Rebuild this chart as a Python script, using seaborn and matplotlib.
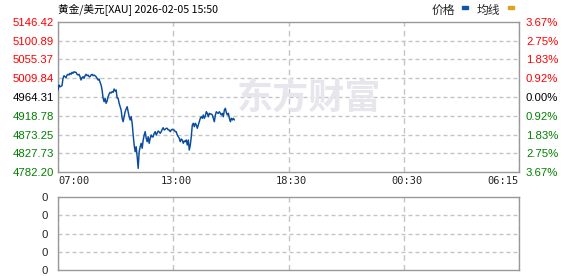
import numpy as np
import pandas as pd
import matplotlib
matplotlib.use("Agg")
import matplotlib.pyplot as plt
import matplotlib.transforms as mtransforms
from matplotlib.collections import LineCollection
import seaborn as sns

# ---------------- data ----------------
title_text = "黄金/美元[XAU] 2026-02-05 15:50"
legend_names = ["价格", "均线"]
price_ticks = [4782.20, 4827.73, 4873.25, 4918.78, 4964.31, 5009.84, 5055.37, 5100.89, 5146.42]
price_labels = ["4782.20", "4827.73", "4873.25", "4918.78", "4964.31",
                "5009.84", "5055.37", "5100.89", "5146.42"]
pct_labels = ["3.67%", "2.75%", "1.83%", "0.92%", "0.00%", "0.92%", "1.83%", "2.75%", "3.67%"]
time_labels = ["07:00", "13:00", "18:30", "00:30", "06:15"]
session_minutes = 1380
step_minutes = 3
volume_labels = ["0", "0", "0", "0", "0"]

prices = [
    4981.3, 4993.4, 4989.0, 4990.5, 4991.8, 5009.7, 5016.0, 5013.6, 5011.2, 5017.7,
    5019.4, 5017.7, 5021.9, 5019.4, 5024.3, 5021.9, 5025.7, 5024.3, 5024.3, 5019.4,
    5017.7, 5019.4, 5013.6, 5005.6, 5011.2, 5013.6, 5009.7, 5016.0, 5019.4, 5016.0,
    5017.7, 5013.6, 5013.6, 5017.7, 5019.4, 5016.0, 5017.7, 5016.0, 5013.6, 5009.7,
    5005.6, 5008.0, 5000.0, 4993.4, 4981.3, 4961.2, 4952.9, 4961.2, 4949.0, 4954.6,
    4965.0, 4971.6, 4975.7, 4974.0, 4977.2, 4975.7, 4983.7, 4978.9, 4981.3, 4961.9,
    4961.2, 4949.0, 4940.8, 4932.7, 4912.6, 4904.3, 4916.5, 4928.6, 4935.2, 4940.8,
    4928.6, 4916.5, 4908.5, 4916.5, 4900.5, 4872.0, 4847.8, 4831.5, 4843.6, 4819.4,
    4791.0, 4831.5, 4843.6, 4851.9, 4839.8, 4859.9, 4872.0, 4880.1, 4864.0, 4855.8,
    4867.9, 4851.9, 4864.0, 4872.0, 4867.2, 4867.9, 4876.2, 4880.1, 4872.0, 4876.9,
    4881.8, 4879.3, 4876.2, 4880.1, 4885.9, 4889.8, 4884.2, 4885.9, 4888.3, 4888.3,
    4884.2, 4884.2, 4880.1, 4884.2, 4885.9, 4884.2, 4884.2, 4880.1, 4880.1, 4872.0,
    4867.9, 4864.0, 4855.8, 4862.3, 4859.9, 4851.9, 4857.5, 4855.8, 4859.9, 4847.8,
    4859.9, 4835.6, 4847.8, 4867.9, 4896.3, 4900.5, 4892.2, 4900.5, 4896.3, 4888.3,
    4896.3, 4904.3, 4912.6, 4916.5, 4912.6, 4920.6, 4912.6, 4918.2, 4928.6, 4924.7,
    4916.5, 4924.7, 4923.0, 4923.0, 4920.6, 4912.6, 4904.3, 4920.6, 4928.6, 4925.5,
    4924.7, 4928.6, 4924.7, 4920.6, 4924.7, 4916.5, 4932.7, 4936.9, 4926.2, 4920.6,
    4924.7, 4912.6, 4904.3, 4912.6, 4908.5, 4912.6, 4908.5,
]

df = pd.DataFrame({"minute": np.arange(len(prices)) * step_minutes, "price": prices})

# ---------------- style ----------------
sns.set_style("white")
plt.rcParams["font.family"] = ["Liberation Sans", "Noto Sans CJK SC", "DejaVu Sans"]

W, H = 578, 276
fig = plt.figure(figsize=(W / 100, H / 100), dpi=100)

def rect(l, t, r, b):
    return [l / W, 1 - b / H, (r - l) / W, (b - t) / H]

RED, GREEN, BLACK = "#ff0000", "#008000", "#000000"
SPINE = "#999999"
GRID = "#c4c4c4"
LINE = "#0a4c9c"
DASH = (0, (4, 3))
PLOT_W = 519 - 58

ax = fig.add_axes(rect(58, 22, 519, 172))
ax2 = fig.add_axes(rect(58, 197, 519, 270))

# watermark
fig.text(309 / W, 1 - 98 / H, "东方财富", fontsize=26, fontweight="bold",
         family=["Noto Sans CJK SC"], color="#e6e6ec", ha="center", va="center", zorder=0)

ax.patch.set_alpha(0)
sns.lineplot(data=df, x="minute", y="price", ax=ax, color=LINE, linewidth=1.05, zorder=3)


def dashed_hgrid(a, levels):
    starts = np.arange(0, 1, 7 / PLOT_W)
    segs = []
    for lv in levels:
        for s in starts:
            segs.append([(s, lv), (min(s + 4 / PLOT_W, 1), lv)])
    lc = LineCollection(segs, colors=GRID, linewidths=1.0, transform=a.get_yaxis_transform(),
                        zorder=1)
    a.add_collection(lc, autolim=False)


xticks = np.linspace(0, session_minutes, len(time_labels))
for a in (ax, ax2):
    a.set_xlim(0, session_minutes)
    for s in a.spines.values():
        s.set_color(SPINE)
        s.set_linewidth(1.0)
    a.tick_params(length=0)
    a.set_xlabel("")
    a.set_ylabel("")
    a.set_axisbelow(True)
    a.grid(True, axis="x", color=GRID, linewidth=1.0, linestyle=DASH)

ax.set_ylim(price_ticks[0], price_ticks[-1])
ax.set_yticks(price_ticks)
ax.set_yticklabels(price_labels, fontsize=8.2)
ax.tick_params(axis="y", pad=3)
dashed_hgrid(ax, price_ticks[1:-1])
colors = [GREEN] * 4 + [BLACK] + [RED] * 4
for lab, c in zip(ax.get_yticklabels(), colors):
    lab.set_color(c)

ax.set_xticks(xticks)
ax.set_xticklabels(time_labels, fontsize=7.5, family=["DejaVu Sans Mono"])
ax.tick_params(axis="x", pad=3)
xl = ax.get_xticklabels()
xl[0].set_ha("left")
xl[-1].set_ha("right")
shift = mtransforms.ScaledTranslation(3 / 100, 0, fig.dpi_scale_trans)
for lab in xl[1:-1]:
    lab.set_transform(lab.get_transform() + shift)

axr = ax.twinx()
axr.set_ylim(price_ticks[0], price_ticks[-1])
axr.set_yticks(price_ticks)
axr.set_yticklabels(pct_labels, fontsize=8.2)
axr.tick_params(length=0, pad=5)
axr.grid(False)
for s in axr.spines.values():
    s.set_visible(False)
for lab, c in zip(axr.get_yticklabels(), colors):
    lab.set_color(c)

# lower panel
ax2.set_ylim(0, 4)
ax2.set_yticks(range(5))
ax2.set_yticklabels(volume_labels, fontsize=8.2)
ax2.tick_params(axis="y", pad=7)
ax2.set_xticks(xticks)
ax2.tick_params(axis="x", labelbottom=False)
dashed_hgrid(ax2, [1, 2, 3])

# title and legend
fig.text(58 / W, 1 - 10 / H, title_text, fontsize=7.7, family=["Noto Sans CJK SC", "DejaVu Sans"],
         ha="left", va="center", color="#000000")
fig.text(432 / W, 1 - 10 / H, legend_names[0], fontsize=8.5, family=["Noto Sans CJK SC"],
         ha="left", va="center")
fig.patches.append(plt.Rectangle((462 / W, 1 - 9 / H), 6 / W, 2.5 / H, color="#1155aa",
                                 transform=fig.transFigure, figure=fig))
fig.text(477 / W, 1 - 10 / H, legend_names[1], fontsize=8.5, family=["Noto Sans CJK SC"],
         ha="left", va="center")
fig.patches.append(plt.Rectangle((508 / W, 1 - 9 / H), 6 / W, 2.5 / H, color="#e0a020",
                                 transform=fig.transFigure, figure=fig))

fig.savefig("out.png", dpi=100)
